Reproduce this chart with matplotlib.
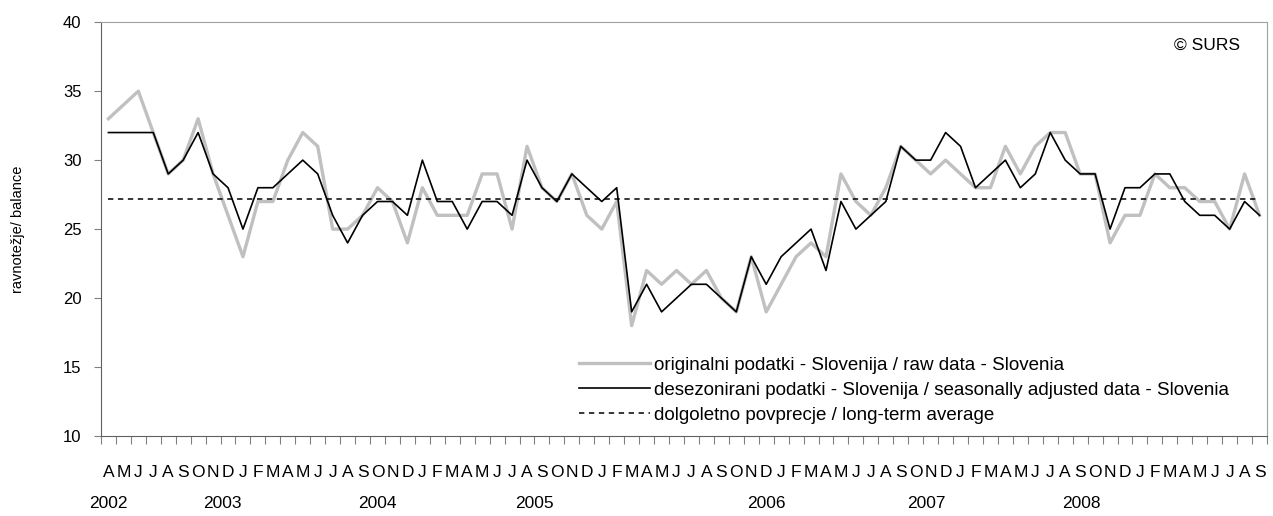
import numpy as np
import matplotlib
matplotlib.use("Agg")
import matplotlib.pyplot as plt

plt.rcParams['font.family'] = ['Liberation Sans', 'DejaVu Sans']

# monthly values, April 2002 - September 2008
raw = [33, 34, 35, 32, 29, 30, 33, 29, 26,
       23, 27, 27, 30, 32, 31, 25, 25, 26, 28, 27, 24,
       28, 26, 26, 26, 29, 29, 25, 31, 28, 27, 29, 26,
       25, 27, 18, 22, 21, 22, 21, 22, 20, 19, 23, 19,
       21, 23, 24, 23, 29, 27, 26, 28, 31, 30, 29, 30,
       29, 28, 28, 31, 29, 31, 32, 32, 29, 29, 24, 26,
       26, 29, 28, 28, 27, 27, 25, 29, 26]
adjusted = [32, 32, 32, 32, 29, 30, 32, 29, 28,
            25, 28, 28, 29, 30, 29, 26, 24, 26, 27, 27, 26,
            30, 27, 27, 25, 27, 27, 26, 30, 28, 27, 29, 28,
            27, 28, 19, 21, 19, 20, 21, 21, 20, 19, 23, 21,
            23, 24, 25, 22, 27, 25, 26, 27, 31, 30, 30, 32,
            31, 28, 29, 30, 28, 29, 32, 30, 29, 29, 25, 28,
            28, 29, 29, 27, 26, 26, 25, 27, 26]
long_term_avg = 27.15

month_letters = list("JFMAMJJASOND")
months = [month_letters[(3 + i) % 12] for i in range(len(raw))]
years = ["2002", "2003", "2004", "2005", "2006", "2007", "2008"]
year_pos = [0.0, 7.6, 18.0, 28.5, 44.0, 54.7, 65.1]

labels = ["originalni podatki - Slovenija / raw data - Slovenia",
          "desezonirani podatki - Slovenija / seasonally adjusted data - Slovenia",
          "dolgoletno povprecje / long-term average"]

x = np.arange(len(raw))

fig = plt.figure(figsize=(12.73, 5.16), dpi=100)
ax = fig.add_axes([0.0793, 0.155, 0.916, 0.802])

ax.plot(x, raw, color="#c0c0c0", lw=2.4, label=labels[0])
ax.plot(x, adjusted, color="black", lw=1.2, label=labels[1])
ax.plot(x, [long_term_avg] * len(x), color="black", lw=1.1,
        ls=(0, (3.5, 3)), label=labels[2])

ax.set_xlim(-0.5, len(x) - 0.5)
ax.set_ylim(10, 40)
ax.set_yticks(range(10, 41, 5))

# ticks between months, letters under each month
ax.set_xticks(np.arange(len(x) + 1) - 0.5)
ax.set_xticklabels([])
ax.tick_params(axis="x", which="major", direction="out", length=5.5, color="#808080")
ax.set_xticks(x, minor=True)
ax.set_xticklabels(months, minor=True, fontsize=12.5)
ax.tick_params(axis="x", which="minor", length=0, pad=21)
ax.tick_params(axis="y", direction="out", length=5, pad=9, color="#808080", labelsize=12)

for yr, pos in zip(years, year_pos):
    ax.text(pos, -0.162, yr, transform=ax.get_xaxis_transform(),
            ha="center", va="center", fontsize=12.5)

for side in ["top", "right"]:
    ax.spines[side].set_color("#a0a0a0")
for side in ["left", "bottom"]:
    ax.spines[side].set_color("#606060")

fig.text(18 / 1273, 0.556, "ravnotežje/ balance", rotation=90,
         ha="center", va="center", fontsize=10.5)
ax.text(0.977, 0.945, "© SURS", transform=ax.transAxes, ha="right",
        va="center", fontsize=12.5)

ax.legend(loc="lower left", bbox_to_anchor=(0.41, 0.03), frameon=False,
          fontsize=13.5, handlelength=3.8, handletextpad=0.18,
          labelspacing=0.42, borderpad=0, borderaxespad=0)

fig.savefig("out.png", dpi=100)
